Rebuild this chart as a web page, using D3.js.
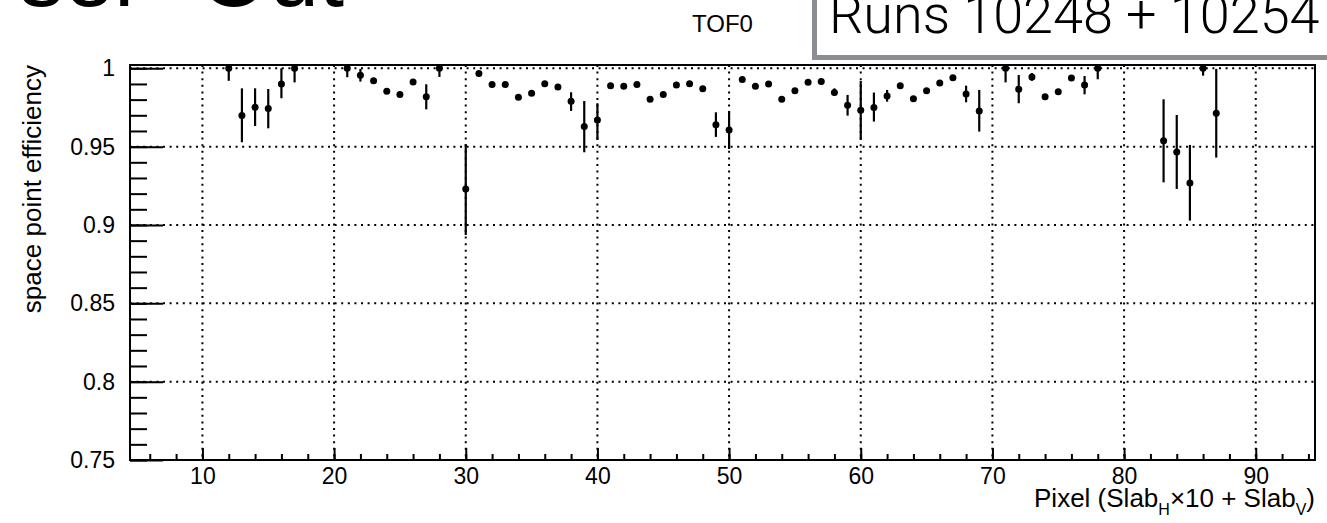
<!DOCTYPE html>
<html>
<head>
<meta charset="utf-8">
<script src="https://cdn.jsdelivr.net/npm/d3@7"></script>
<style>
  body { margin: 0; background: #fff; }
  svg { display: block; font-family: "Liberation Sans", Arial, sans-serif; }
  .grid line { stroke: #000; stroke-width: 2; stroke-dasharray: 2 4.6; }
  .axis line { stroke: #000; stroke-width: 2; }
  .axis path { display: none; }
  .axis text { fill: #000; }
</style>
</head>
<body>
<svg width="1327" height="523"></svg>
<script>
// pixel number (Slab_H*10 + Slab_V)
var pixels = [12, 13, 14, 15, 16, 17, 21, 22, 23, 24, 25, 26, 27, 28, 30, 31, 32, 33, 34, 35,
  36, 37, 38, 39, 40, 41, 42, 43, 44, 45, 46, 47, 48, 49, 50, 51, 52, 53, 54, 55,
  56, 57, 58, 59, 60, 61, 62, 63, 64, 65, 66, 67, 68, 69, 71, 72, 73, 74, 75, 76,
  77, 78, 83, 84, 85, 86, 87];

// space point efficiency
var eff = [1.000, 0.9698, 0.9751, 0.9743, 0.9900, 1.000, 1.000, 0.9955, 0.9921, 0.9853, 0.9832, 0.9913, 0.9819, 1.000, 0.9230, 0.9966, 0.9896, 0.9896, 0.9815, 0.9840,
  0.9902, 0.9881, 0.9789, 0.9628, 0.9670, 0.9889, 0.9885, 0.9896, 0.9802, 0.9832, 0.9894, 0.9902, 0.9870, 0.9640, 0.9606, 0.9928, 0.9885, 0.9900, 0.9802, 0.9857,
  0.9911, 0.9915, 0.9845, 0.9764, 0.9732, 0.9749, 0.9823, 0.9889, 0.9806, 0.9857, 0.9906, 0.9940, 0.9836, 0.9728, 1.000, 0.9866, 0.9945, 0.9819, 0.9851, 0.9938,
  0.9894, 1.000, 0.9538, 0.9466, 0.9268, 1.000, 0.9713];

// lower errors
var errLow = [0.0080, 0.0170, 0.0119, 0.0126, 0.0091, 0.0090, 0.0057, 0.0040, 0.0016, 0.0010, 0.0010, 0.0010, 0.0081, 0.0055, 0.0294, 0.0016, 0.0010, 0.0010, 0.0010, 0.0010,
  0.0010, 0.0010, 0.0061, 0.0164, 0.0127, 0.0010, 0.0010, 0.0010, 0.0010, 0.0010, 0.0010, 0.0010, 0.0015, 0.0078, 0.0121, 0.0010, 0.0010, 0.0010, 0.0010, 0.0010,
  0.0010, 0.0010, 0.0019, 0.0066, 0.0189, 0.0089, 0.0036, 0.0010, 0.0010, 0.0010, 0.0010, 0.0010, 0.0053, 0.0132, 0.0090, 0.0089, 0.0025, 0.0010, 0.0010, 0.0010,
  0.0060, 0.0070, 0.0266, 0.0236, 0.0240, 0.0047, 0.0283];

// upper errors
var errHigh = [0.0000, 0.0174, 0.0121, 0.0125, 0.0100, 0.0000, 0.0000, 0.0041, 0.0014, 0.0010, 0.0010, 0.0010, 0.0079, 0.0000, 0.0285, 0.0014, 0.0010, 0.0010, 0.0010, 0.0010,
  0.0010, 0.0010, 0.0058, 0.0163, 0.0107, 0.0010, 0.0010, 0.0010, 0.0010, 0.0010, 0.0010, 0.0010, 0.0015, 0.0079, 0.0122, 0.0010, 0.0010, 0.0010, 0.0010, 0.0010,
  0.0010, 0.0010, 0.0027, 0.0066, 0.0187, 0.0096, 0.0039, 0.0010, 0.0010, 0.0010, 0.0010, 0.0010, 0.0053, 0.0134, 0.0000, 0.0091, 0.0025, 0.0010, 0.0010, 0.0010,
  0.0057, 0.0000, 0.0264, 0.0236, 0.0243, 0.0000, 0.0283];

var xTicks = [10, 20, 30, 40, 50, 60, 70, 80, 90];
var xTickLabels = ["10", "20", "30", "40", "50", "60", "70", "80", "90"];
var yTicks = [0.75, 0.8, 0.85, 0.9, 0.95, 1];
var yTickLabels = ["0.75", "0.8", "0.85", "0.9", "0.95", "1"];

var data = pixels.map(function(p, i) {
  return {px: p, eff: eff[i], lo: eff[i] - errLow[i], hi: eff[i] + errHigh[i]};
});

// frame
var margin = {top: 65, right: 12, bottom: 63, left: 130},
    width = 1327 - margin.left - margin.right,
    height = 523 - margin.top - margin.bottom;

var x = d3.scaleLinear().domain([4.5, 94.5]).range([0, width]);
var y = d3.scaleLinear().domain([0.75, 1.0021]).range([height, 0]);

var svg = d3.select("svg");

// cut-off slide title and labels above the pad
svg.append("text")
    .attr("x", 19)
    .attr("y", 6)
    .attr("font-size", 90)
    .attr("word-spacing", 30)
    .text("ser Out");

svg.append("text")
    .attr("x", 692)
    .attr("y", 32)
    .attr("font-size", 24)
    .text("TOF0");

svg.append("rect")
    .attr("x", 814.5)
    .attr("y", -20)
    .attr("width", 600)
    .attr("height", 77.5)
    .attr("fill", "#fff")
    .attr("stroke", "#8a8d91")
    .attr("stroke-width", 5);

svg.append("text")
    .attr("x", 829)
    .attr("y", 33)
    .attr("font-size", 54)
    .attr("font-family", "Roboto, 'Open Sans', sans-serif")
    .attr("font-weight", 300)
    .text("Runs 10248 + 10254");

var g = svg.append("g")
    .attr("transform", "translate(" + margin.left + "," + margin.top + ")");

// dotted grid
g.append("g").attr("class", "grid")
  .selectAll("line").data(xTicks).enter().append("line")
    .attr("x1", function(d) { return x(d); })
    .attr("x2", function(d) { return x(d); })
    .attr("y1", 0).attr("y2", height);

g.append("g").attr("class", "grid")
  .selectAll("line").data(yTicks.slice(1)).enter().append("line")
    .attr("y1", function(d) { return y(d); })
    .attr("y2", function(d) { return y(d); })
    .attr("x1", 0).attr("x2", width);

// y axis, major + minor ticks pointing inward
var yMinor = d3.range(75, 101).map(function(v) { return v / 100; });
g.append("g").attr("class", "axis")
    .call(d3.axisLeft(y).tickValues(yMinor).tickSize(-17).tickFormat(""));
g.append("g").attr("class", "axis")
    .call(d3.axisLeft(y).tickValues(yTicks).tickSize(-33).tickPadding(15)
      .tickFormat(function(d, i) { return yTickLabels[i]; }))
  .selectAll("text").attr("font-size", 23);

// x axis
var xMinor = d3.range(6, 95, 2);
g.append("g").attr("class", "axis")
    .attr("transform", "translate(0," + height + ")")
    .call(d3.axisBottom(x).tickValues(xMinor).tickSize(-6).tickFormat(""));
g.append("g").attr("class", "axis")
    .attr("transform", "translate(0," + height + ")")
    .call(d3.axisBottom(x).tickValues(xTicks).tickSize(-12).tickPadding(8)
      .tickFormat(function(d, i) { return xTickLabels[i]; }))
  .selectAll("text").attr("font-size", 23);

// frame box
g.append("rect")
    .attr("width", width)
    .attr("height", height)
    .attr("fill", "none")
    .attr("stroke", "#000")
    .attr("stroke-width", 2);

// error bars
g.selectAll(".err").data(data).enter().append("line")
    .attr("class", "err")
    .attr("x1", function(d) { return x(d.px); })
    .attr("x2", function(d) { return x(d.px); })
    .attr("y1", function(d) { return y(d.lo); })
    .attr("y2", function(d) { return y(d.hi); })
    .attr("stroke", "#000")
    .attr("stroke-width", 2.2);

// points
g.selectAll(".pt").data(data).enter().append("circle")
    .attr("class", "pt")
    .attr("cx", function(d) { return x(d.px); })
    .attr("cy", function(d) { return y(d.eff); })
    .attr("r", 3.5)
    .attr("fill", "#000");

// axis titles
var xt = g.append("text")
    .attr("x", width)
    .attr("y", height + 47)
    .attr("text-anchor", "end")
    .attr("font-size", 26);
xt.append("tspan").text("Pixel (Slab");
xt.append("tspan").attr("font-size", 16).attr("dy", 8).text("H");
xt.append("tspan").attr("dy", -8).text("\u00d710 + Slab");
xt.append("tspan").attr("font-size", 16).attr("dy", 8).text("V");
xt.append("tspan").attr("dy", -8).text(")");

g.append("text")
    .attr("transform", "rotate(-90)")
    .attr("x", 0)
    .attr("y", -89)
    .attr("text-anchor", "end")
    .attr("font-size", 26)
    .text("space point efficiency");
</script>
</body>
</html>
